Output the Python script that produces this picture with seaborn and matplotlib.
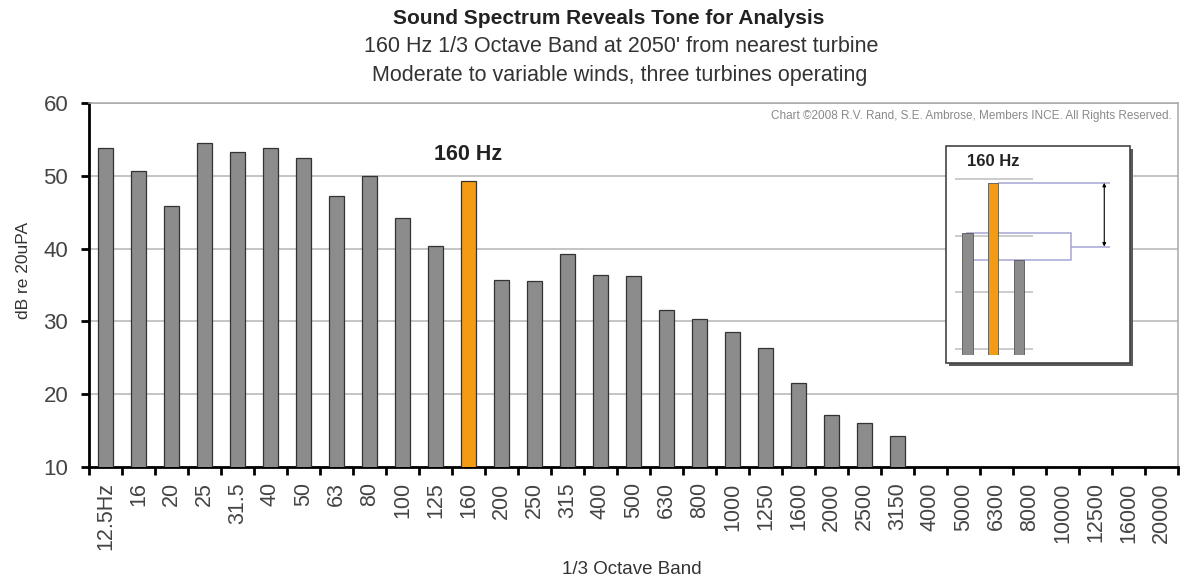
import matplotlib
matplotlib.use('Agg')
import matplotlib.pyplot as plt
import seaborn as sns
import pandas as pd
from matplotlib.patches import Rectangle

# 1/3 옥타브 밴드별 음압레벨
bands = ['12.5Hz', '16', '20', '25', '31.5', '40', '50', '63', '80', '100', '125', '160',
         '200', '250', '315', '400', '500', '630', '800', '1000', '1250', '1600', '2000',
         '2500', '3150', '4000', '5000', '6300', '8000', '10000', '12500', '16000', '20000']
levels = [53.8, 50.6, 45.9, 54.5, 53.3, 53.8, 52.5, 47.2, 50.0, 44.2, 40.4, 49.3,
          35.7, 35.5, 39.3, 36.4, 36.3, 31.6, 30.3, 28.6, 26.3, 21.6, 17.2,
          16.1, 14.3, 10, 10, 10, 10, 10, 10, 10, 10]
tone_band = '160'

# 인셋(160Hz 주변 3개 밴드)
inset_bands = ['125', '160', '200']
inset_grid = [20, 30, 40, 50]

GRAY = '#8c8c8c'
ORANGE = '#f49b14'

df = pd.DataFrame({'band': bands, 'level': levels})
df['kind'] = ['tone' if b == tone_band else 'band' for b in bands]

sns.set_theme(style='white')
plt.rcParams['font.family'] = ['Liberation Sans', 'DejaVu Sans']

W, H = 1188, 581
fig = plt.figure(figsize=(W / 100, H / 100), dpi=100)

def fx(px):
    return px / W

def fy(py):
    return 1 - py / H

ax = fig.add_axes([fx(89), fy(467), fx(1178 - 89), (467 - 103) / H])
sns.barplot(data=df, x='band', y='level', hue='kind',
            palette={'band': GRAY, 'tone': ORANGE}, dodge=False, width=0.43,
            saturation=1, edgecolor='#333333', linewidth=0.9, legend=False,
            ax=ax, zorder=3)
ax.set_xlim(-0.5, len(bands) - 0.5)
ax.set_ylim(10, 60)
ax.set_yticks(range(10, 61, 10))
ax.yaxis.grid(True, color='#b4b4b4', linewidth=1.1)
ax.set_axisbelow(True)
ax.set_xlabel('')
ax.set_ylabel('')

for side in ['left', 'bottom']:
    ax.spines[side].set_color('black')
    ax.spines[side].set_linewidth(2)
for side in ['top', 'right']:
    ax.spines[side].set_color('#a8a8a8')
    ax.spines[side].set_linewidth(1.1)

ax.tick_params(axis='y', which='major', direction='out', length=6, width=2,
               color='black', labelsize=16, labelcolor='#444444', pad=9, left=True)
ax.set_xticks(range(len(bands)))
ax.set_xticklabels(bands, rotation=90, ha='center', va='top')
ax.tick_params(axis='x', which='major', length=0, labelsize=15.5,
               labelcolor='#444444', pad=11)
ax.set_xticks([i - 0.5 for i in range(len(bands) + 1)], minor=True)
ax.tick_params(axis='x', which='minor', direction='out', length=6, width=2,
               color='black', bottom=True)

i_tone = bands.index(tone_band)
ax.text(i_tone, 52.9, '160 Hz', ha='center', va='center', fontsize=15.5,
        fontweight='bold', color='#222222')

ax.text(0.9945, 0.965, 'Chart ©2008 R.V. Rand, S.E. Ambrose, Members INCE. All Rights Reserved.',
        transform=ax.transAxes, ha='right', va='center', fontsize=8.5, color='#8a8a8a')

# 제목
fig.text(fx(609), fy(18), 'Sound Spectrum Reveals Tone for Analysis', ha='center',
         va='center', fontsize=15, fontweight='bold', color='#222222')
fig.text(fx(621), fy(47), "160 Hz 1/3 Octave Band at 2050' from nearest turbine",
         ha='center', va='center', fontsize=15.5, color='#333333')
fig.text(fx(620), fy(75), 'Moderate to variable winds, three turbines operating',
         ha='center', va='center', fontsize=15.5, color='#333333')
fig.text(fx(24), fy(270), 'dB re 20uPA', rotation=90, ha='center', va='center',
         fontsize=12.5, color='#333333')
fig.text(fx(632), fy(569), '1/3 Octave Band', ha='center', va='center',
         fontsize=13.5, color='#333333')

# 인셋 박스 (그림자 포함)
fig.add_artist(Rectangle((fx(949), fy(366)), fx(184), (366 - 149) / H,
                         transform=fig.transFigure, facecolor='#5a5a5a',
                         edgecolor='none', zorder=1))
fig.add_artist(Rectangle((fx(946), fy(363)), fx(184), (363 - 146) / H,
                         transform=fig.transFigure, facecolor='white',
                         edgecolor='#444444', linewidth=1.2, zorder=1.1))

inset_df = df[df['band'].isin(inset_bands)].reset_index(drop=True)
axi = fig.add_axes([fx(946), fy(355), fx(184), (355 - 150) / H], zorder=2)
axi.patch.set_alpha(0)
vals = inset_df['level'].tolist()
lo, tone, hi = vals
mid = (lo + hi) / 2
axi.hlines(inset_grid, -0.45, 2.55, color='#c4c4c4', linewidth=1.2, zorder=1)
axi.add_patch(Rectangle((0, hi), 4.0, lo - hi, facecolor='none',
                        edgecolor='#a6a6d2', linewidth=1.1, zorder=1))
axi.hlines(mid, 4.0, 5.5, color='#a6a6d2', linewidth=1.1, zorder=1)
axi.hlines(tone, 1.2, 5.5, color='#a6a6d2', linewidth=1.1, zorder=1)
sns.barplot(data=inset_df, x='band', y='level', hue='kind',
            palette={'band': GRAY, 'tone': ORANGE}, dodge=False, width=0.42,
            saturation=1, edgecolor='#555555', linewidth=0.6, legend=False,
            ax=axi, zorder=3)
axi.annotate('', xy=(5.28, tone), xytext=(5.28, mid),
             arrowprops=dict(arrowstyle='<|-|>', color='black', lw=0.8,
                             mutation_scale=5, shrinkA=0, shrinkB=0))
axi.text(1, 53.0, '160 Hz', ha='center', va='center', fontsize=12,
         fontweight='bold', color='#222222')
axi.set_xlim(-0.81, 6.27)
axi.set_ylim(18.9, 55.1)
axi.set_axis_off()

fig.savefig('out.png', dpi=100)
